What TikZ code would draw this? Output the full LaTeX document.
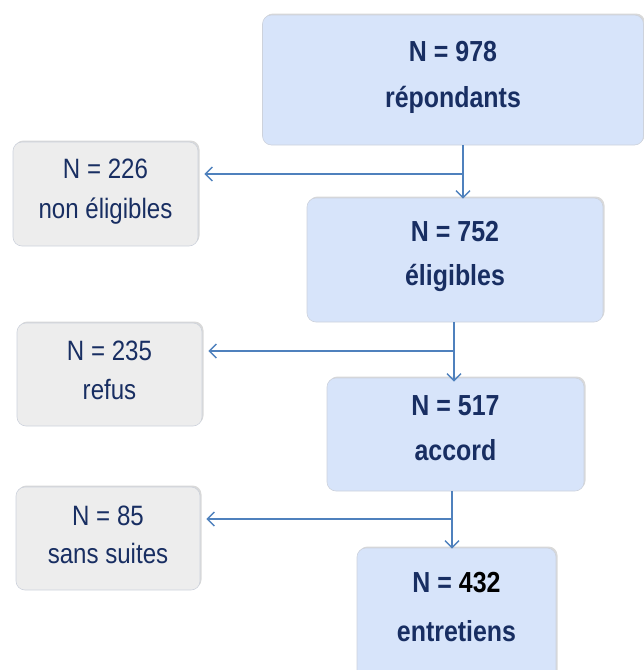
\documentclass[tikz,border=0pt]{standalone}
\usepackage{fontspec}
\setmainfont{Liberation Sans}[FakeStretch=0.86]
\usetikzlibrary{arrows.meta,shadows}
\definecolor{bluefill}{RGB}{215,228,250}
\definecolor{grayfill}{RGB}{237,237,237}
\definecolor{navy}{RGB}{24,46,98}
\definecolor{arrowc}{RGB}{79,129,189}
\definecolor{edgec}{RGB}{205,210,220}
\tikzset{
  boxbase/.style={draw=edgec, line width=0.6pt, rounded corners=9pt, inner sep=0pt,
    drop shadow={shadow xshift=1.5pt, shadow yshift=1.5pt, opacity=0.25, fill=black!60}},
  mainbox/.style={boxbase, fill=bluefill},
  sidebox/.style={boxbase, fill=grayfill},
  maintext/.style={align=center, text=navy, inner sep=0pt, font=\fontsize{29}{46}\selectfont\bfseries},
  sidetext/.style={align=center, text=navy, inner sep=0pt, font=\fontsize{28}{39}\selectfont},
  conn/.style={draw=arrowc, line width=1.4pt},
  arr/.style={conn, -{Straight Barb[length=7pt,width=14pt,line width=1.4pt]}},
}
\begin{document}
\begin{tikzpicture}[x=1pt,y=-1pt]
\useasboundingbox (0,0) rectangle (644,670);
\clip (0,0) rectangle (644,670);
% main boxes
\node[mainbox, minimum width=381pt, minimum height=130pt] (b1) at (453,80) {};
\node[maintext] (b1t) at (453,77) {N = 978\\répondants};
\node[mainbox, minimum width=296pt, minimum height=124pt] (b2) at (455,260) {};
\node[maintext, font=\fontsize{29}{44}\selectfont\bfseries] (b2t) at (455,256.5) {N = 752\\éligibles};
\node[mainbox, minimum width=257pt, minimum height=113pt] (b3) at (455.5,434.5) {};
\node[maintext, font=\fontsize{29}{45}\selectfont\bfseries] (b3t) at (455.5,428.5) {N = 517\\accord};
\node[mainbox, minimum width=199pt, minimum height=140pt] (b4) at (456.5,618) {};
\node[maintext, font=\fontsize{29}{49}\selectfont\bfseries] (b4t) at (456.5,607) {N = {\color{black}432}\\entretiens};
% side boxes
\node[sidebox, minimum width=185pt, minimum height=104pt] (g1) at (105.5,194) {};
\node[sidetext, font=\fontsize{28}{40}\selectfont] (g1t) at (105.5,192) {N = 226\\non éligibles};
\node[sidebox, minimum width=185pt, minimum height=103pt] (g2) at (109.5,374.5) {};
\node[sidetext] (g2t) at (109.5,370.5) {N = 235\\refus};
\node[sidebox, minimum width=184pt, minimum height=103pt] (g3) at (108,538.5) {};
\node[sidetext, font=\fontsize{28}{38}\selectfont] (g3t) at (108,535) {N = 85\\sans suites};
% junctions
\coordinate (j1) at (463,174);
\coordinate (j2) at (454,351);
\coordinate (j3) at (452,519);
% connectors
\draw[conn] (b1.south -| j1) -- (j1);
\draw[arr] (j1) -- ([yshift=-1pt]b2.north -| j1);
\draw[arr, shorten >=6pt] (j1) -- (g1.east |- j1);
\draw[conn] (b2.south -| j2) -- (j2);
\draw[arr] (j2) -- ([yshift=-4pt]b3.north -| j2);
\draw[arr, shorten >=6pt] (j2) -- (g2.east |- j2);
\draw[conn] (b3.south -| j3) -- (j3);
\draw[arr] (j3) -- ([yshift=-1pt]b4.north -| j3);
\draw[arr, shorten >=6pt] (j3) -- (g3.east |- j3);
\end{tikzpicture}
\end{document}
